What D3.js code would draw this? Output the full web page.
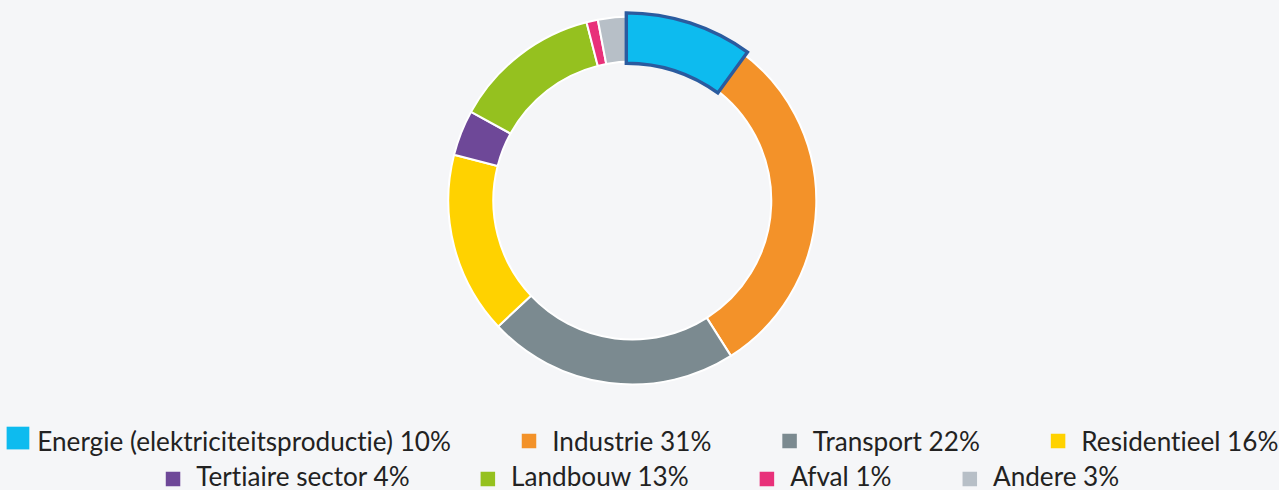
<!DOCTYPE html>
<html>
<head>
<meta charset="utf-8">
<script src="https://cdn.jsdelivr.net/npm/d3@7"></script>
<style>
  html, body { margin: 0; padding: 0; background: #f5f6f8; }
  svg { display: block; }
  svg text { font-variant-ligatures: none; font-feature-settings: "liga" 0, "clig" 0, "calt" 0, "dlig" 0; }
</style>
</head>
<body>
<svg id="chart" width="1279" height="490"></svg>
<script>
const categories = [
  "Energie (elektriciteitsproductie)",
  "Industrie",
  "Transport",
  "Residentieel",
  "Tertiaire sector",
  "Landbouw",
  "Afval",
  "Andere"
];
const values = [10, 31, 22, 16, 4, 13, 1, 3];
const colors = ["#0dbbef", "#f39229", "#7b8a90", "#ffd200", "#6e4898", "#95c11f", "#e8317a", "#b7bfc7"];
const highlightIndex = 0;
const legendRows = [[0, 1, 2, 3], [4, 5, 6, 7]];

const W = 1279, H = 490;
const cx = 632.3, cy = 200.5, outerR = 184, innerR = 139;
const svg = d3.select("#chart");
svg.append("rect").attr("width", W).attr("height", H).attr("fill", "#f5f6f8");

const data = categories.map((c, i) => ({ name: c, value: values[i], color: colors[i], i }));
const pie = d3.pie().value(d => d.value).sort(null).startAngle(0).endAngle(2 * Math.PI);
const arcs = pie(data);
const arc = d3.arc().innerRadius(innerR).outerRadius(outerR);

const g = svg.append("g").attr("transform", `translate(${cx},${cy})`);
g.selectAll("path.slice")
  .data(arcs.filter(a => a.data.i !== highlightIndex))
  .join("path")
  .attr("class", "slice")
  .attr("d", arc)
  .attr("fill", d => d.data.color)
  .attr("stroke", "#ffffff")
  .attr("stroke-width", 2)
  .attr("stroke-linejoin", "round");

// highlighted (hovered) slice, enlarged about its centroid
const hl = arcs.find(a => a.data.i === highlightIndex);
const s = 1.12;
const [hx, hy] = arc.centroid(hl);
g.append("path")
  .attr("d", arc(hl))
  .attr("transform", `translate(${hx},${hy}) scale(${s}) translate(${-hx},${-hy})`)
  .attr("fill", hl.data.color)
  .attr("stroke", "#2a5b9f")
  .attr("stroke-width", 3.4 / s)
  .attr("stroke-linejoin", "miter");

// legend
const fontFamily = "Lato, 'Open Sans', sans-serif";
const featureStyle = "font-variant-ligatures: none; font-feature-settings: 'liga' 0, 'clig' 0, 'calt' 0, 'dlig' 0;";
const lg = svg.append("g");
const probe = lg.append("text").attr("font-family", fontFamily).attr("font-size", 22)
  .attr("style", featureStyle)
  .text(`${categories[0]} ${values[0]}%`);
const targetW = 414;
const fs = 22 * targetW / probe.node().getComputedTextLength();
probe.remove();

const markerSize = 14.5, markerGap = 16, itemGap = 71;
const rowY = [441, 476];
const markerY = [441, 479];
const legendCenter = 642.5;

legendRows.forEach((row, r) => {
  const items = row.map(i => {
    const t = lg.append("text")
      .attr("font-family", fontFamily)
      .attr("font-size", fs)
      .attr("fill", "#222222")
      .attr("style", featureStyle)
      .attr("dominant-baseline", "central")
      .text(`${categories[i]} ${values[i]}%`);
    return { i, t, w: t.node().getComputedTextLength() };
  });
  const total = items.reduce((acc, it) => acc + markerSize + markerGap + it.w, 0) + itemGap * (items.length - 1);
  let x = legendCenter - total / 2;
  items.forEach(it => {
    const y = rowY[r];
    if (it.i === highlightIndex) {
      const big = 22.7;
      lg.append("rect")
        .attr("x", x)
        .attr("y", 426.7)
        .attr("width", big).attr("height", big)
        .attr("fill", colors[it.i]);
      it.t.attr("x", x + big + 8).attr("y", y);
    } else {
      lg.append("rect")
        .attr("x", x)
        .attr("y", markerY[r] - markerSize / 2)
        .attr("width", markerSize).attr("height", markerSize)
        .attr("fill", colors[it.i]);
      it.t.attr("x", x + markerSize + markerGap).attr("y", y);
    }
    x += markerSize + markerGap + it.w + itemGap;
  });
});
</script>
</body>
</html>
